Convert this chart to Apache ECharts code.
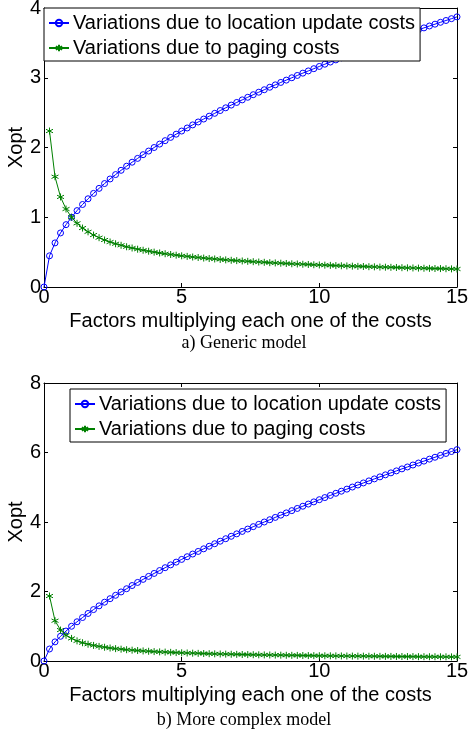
<!DOCTYPE html>
<html>
<head>
<meta charset="utf-8">
<script src="https://cdn.jsdelivr.net/npm/echarts@6/dist/echarts.min.js"></script>
<style>
html,body{margin:0;padding:0;background:#fff;}
#chart{width:470px;height:734px;}
</style>
</head>
<body>
<div id="chart"></div>
<script>
// ---- data ----
const xs = [0,0.2,0.4,0.6,0.8,1,1.2,1.4,1.6,1.8,2,2.2,2.4,2.6,2.8,3,3.2,3.4,3.6,3.8,4,4.2,4.4,4.6,4.8,5,5.2,5.4,5.6,5.8,6,6.2,6.4,6.6,6.8,7,7.2,7.4,7.6,7.8,8,8.2,8.4,8.6,8.8,9,9.2,9.4,9.6,9.8,10,10.2,10.4,10.6,10.8,11,11.2,11.4,11.6,11.8,12,12.2,12.4,12.6,12.8,13,13.2,13.4,13.6,13.8,14,14.2,14.4,14.6,14.8,15];

// a) Generic model
const genericLocation = [0,0.447,0.632,0.775,0.894,1.000,1.095,1.183,1.265,1.342,1.414,1.483,1.549,1.612,1.673,1.732,1.789,1.844,1.897,1.949,2.000,2.049,2.098,2.145,2.191,2.236,2.280,2.324,2.366,2.408,2.449,2.490,2.530,2.569,2.608,2.646,2.683,2.720,2.757,2.793,2.828,2.864,2.898,2.933,2.966,3.000,3.033,3.066,3.098,3.130,3.162,3.194,3.225,3.256,3.286,3.317,3.347,3.376,3.406,3.435,3.464,3.493,3.521,3.550,3.578,3.606,3.633,3.661,3.688,3.715,3.742,3.768,3.795,3.821,3.847,3.873];
// paging series starts at x = 0.2
const genericPaging = [2.236,1.581,1.291,1.118,1.000,0.913,0.845,0.791,0.745,0.707,0.674,0.645,0.620,0.598,0.577,0.559,0.542,0.527,0.513,0.500,0.488,0.477,0.466,0.456,0.447,0.439,0.430,0.423,0.415,0.408,0.402,0.395,0.389,0.383,0.378,0.373,0.368,0.363,0.358,0.354,0.349,0.345,0.341,0.337,0.333,0.330,0.326,0.323,0.319,0.316,0.313,0.310,0.307,0.304,0.302,0.299,0.296,0.294,0.291,0.289,0.286,0.284,0.282,0.280,0.277,0.275,0.273,0.271,0.269,0.267,0.265,0.264,0.262,0.260,0.258];

// b) More complex model
const complexLocation = [0,0.345,0.550,0.711,0.862,1.000,1.129,1.251,1.368,1.480,1.587,1.692,1.793,1.891,1.987,2.080,2.172,2.261,2.349,2.435,2.520,2.603,2.685,2.766,2.845,2.924,3.001,3.078,3.153,3.228,3.302,3.375,3.447,3.519,3.589,3.659,3.729,3.797,3.866,3.933,4.000,4.066,4.132,4.197,4.262,4.327,4.390,4.454,4.516,4.579,4.642,4.703,4.765,4.826,4.886,4.946,5.006,5.065,5.124,5.183,5.241,5.299,5.357,5.414,5.471,5.529,5.584,5.640,5.697,5.752,5.809,5.863,5.918,5.973,6.028,6.082];
const complexPaging = [1.87,1.16,0.89,0.74,0.65,0.579,0.526,0.483,0.449,0.420,0.396,0.374,0.356,0.340,0.325,0.312,0.301,0.290,0.280,0.271,0.263,0.256,0.249,0.242,0.236,0.230,0.225,0.220,0.215,0.210,0.206,0.202,0.198,0.194,0.191,0.187,0.184,0.181,0.178,0.175,0.173,0.170,0.168,0.165,0.163,0.161,0.158,0.156,0.154,0.152,0.150,0.149,0.147,0.145,0.143,0.142,0.140,0.139,0.137,0.136,0.134,0.133,0.132,0.130,0.129,0.128,0.127,0.125,0.124,0.123,0.122,0.121,0.120,0.119,0.118];

const seriesNames = ['Variations due to location update costs','Variations due to paging costs'];
const xTicks = [0, 15, 5];          // min, max, interval
const yTicksA = [0, 4, 1];
const yTicksB = [0, 8, 2];
const captions = ['a) Generic model','b) More complex model'];
const xName = 'Factors multiplying each one of the costs';
const yName = 'Xopt';

// ---- chart ----
const FONT = '"Liberation Sans", Arial, sans-serif';
const SERIF = '"Liberation Serif", "Times New Roman", serif';
const FS = 20;
const BLUE = '#0000ff', GREEN = '#008000';
const STAR = 'path://M0,-5L0,5M-4.33,-2.5L4.33,2.5M-4.33,2.5L4.33,-2.5';

function pairs(x, y) { return y.map((v, i) => [x[i], v]); }

const axisLine = { show: true, onZero: false, lineStyle: { color: '#000', width: 1 } };
const tick = { show: true, inside: true, length: 4, lineStyle: { color: '#000' } };

function xAxes(gi) {
  return [
    { gridIndex: gi, type: 'value', min: xTicks[0], max: xTicks[1], interval: xTicks[2], position: 'bottom',
      axisLine, axisTick: tick, splitLine: { show: false },
      axisLabel: { color: '#000', fontFamily: FONT, fontSize: FS, margin: 0 },
      name: xName, nameLocation: 'middle', nameGap: 24, nameMoveOverlap: false,
      nameTextStyle: { color: '#000', fontFamily: FONT, fontSize: FS } },
    { gridIndex: gi, type: 'value', min: xTicks[0], max: xTicks[1], interval: xTicks[2], position: 'top',
      axisLine, axisTick: tick, splitLine: { show: false }, axisLabel: { show: false } }
  ];
}
function yAxes(gi, t) {
  return [
    { gridIndex: gi, type: 'value', min: t[0], max: t[1], interval: t[2], position: 'left',
      axisLine, axisTick: tick, splitLine: { show: false },
      axisLabel: { color: '#000', fontFamily: FONT, fontSize: FS, margin: 3 },
      name: yName, nameLocation: 'middle', nameGap: 18, nameMoveOverlap: false,
      nameTextStyle: { color: '#000', fontFamily: FONT, fontSize: FS } },
    { gridIndex: gi, type: 'value', min: t[0], max: t[1], interval: t[2], position: 'right',
      axisLine, axisTick: tick, splitLine: { show: false }, axisLabel: { show: false } }
  ];
}

function locSeries(xi, yi, data) {
  return { name: seriesNames[0], type: 'line', xAxisIndex: xi, yAxisIndex: yi, data,
    symbol: 'circle', symbolSize: 6, showAllSymbol: true,
    lineStyle: { color: BLUE, width: 1 },
    itemStyle: { color: 'rgba(0,0,0,0)', borderColor: BLUE, borderWidth: 1 },
    emphasis: { disabled: true }, z: 2 };
}
function pagSeries(xi, yi, data) {
  return { name: seriesNames[1], type: 'line', xAxisIndex: xi, yAxisIndex: yi, data,
    symbol: STAR, symbolSize: 7, showAllSymbol: true,
    lineStyle: { color: GREEN, width: 1 },
    itemStyle: { color: 'rgba(0,0,0,0)', borderColor: GREEN, borderWidth: 1 },
    emphasis: { disabled: true }, z: 3 };
}

const legendBase = {
  orient: 'vertical', data: seriesNames, itemWidth: 20, itemHeight: 8, itemGap: 3,
  backgroundColor: '#fff', borderColor: '#000', borderWidth: 1,
  padding: [4, 5, 2, 4], selectedMode: false,
  textStyle: { color: '#000', fontFamily: FONT, fontSize: FS, lineHeight: 22, padding: [0,0,0,-1] }
};

const option = {
  animation: false,
  backgroundColor: '#fff',
  title: [
    { text: captions[0], left: 244, top: 334, textAlign: 'center',
      textStyle: { fontFamily: SERIF, fontSize: 18, fontWeight: 'normal', color: '#000' }, padding: 0 },
    { text: captions[1], left: 244, top: 711, textAlign: 'center',
      textStyle: { fontFamily: SERIF, fontSize: 18, fontWeight: 'normal', color: '#000' }, padding: 0 }
  ],
  grid: [
    { left: 44, top: 8, width: 413, height: 279, containLabel: false, outerBoundsMode: 'none' },
    { left: 44, top: 383, width: 413, height: 278, containLabel: false, outerBoundsMode: 'none' }
  ],
  xAxis: [...xAxes(0), ...xAxes(1)],
  yAxis: [...yAxes(0, yTicksA), ...yAxes(1, yTicksB)],
  legend: [
    Object.assign({}, legendBase, { left: 44, top: 8 }),
    Object.assign({}, legendBase, { left: 70, top: 389 })
  ],
  series: [
    locSeries(0, 0, pairs(xs, genericLocation)),
    pagSeries(0, 0, pairs(xs.slice(1), genericPaging)),
    locSeries(2, 2, pairs(xs, complexLocation)),
    pagSeries(2, 2, pairs(xs.slice(1), complexPaging))
  ]
};

const chart = echarts.init(document.getElementById('chart'), null, { renderer: 'canvas' });
chart.setOption(option);
</script>
</body>
</html>
